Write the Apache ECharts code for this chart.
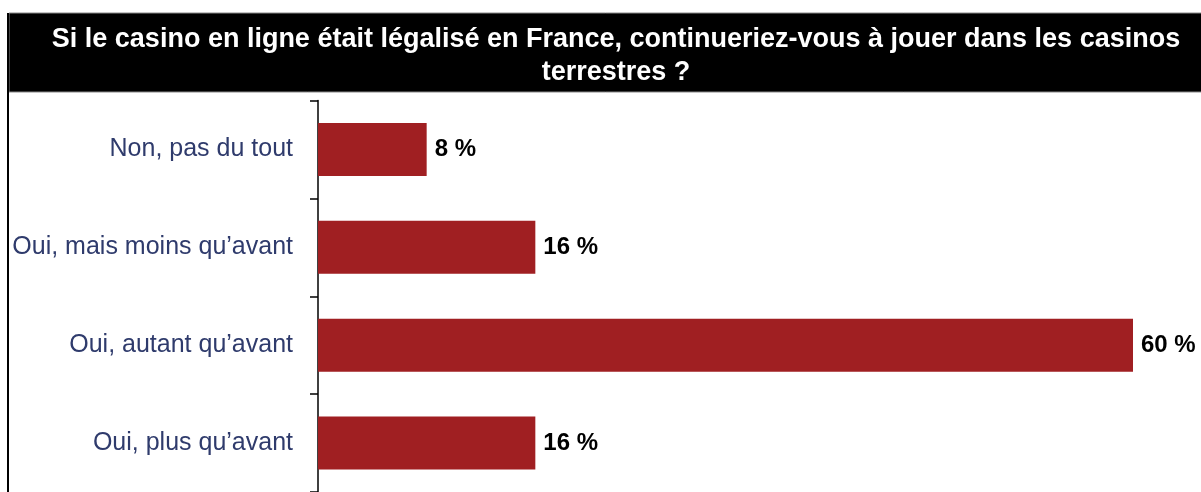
<!DOCTYPE html>
<html>
<head>
<meta charset="utf-8">
<script src="https://cdn.jsdelivr.net/npm/echarts@6/dist/echarts.min.js"></script>
<style>
html,body{margin:0;padding:0;background:#fff;}
#c{width:1201px;height:492px;}
</style>
</head>
<body>
<div id="c"></div>
<script>
var titleText = "Si le casino en ligne était légalisé en France, continueriez-vous à jouer dans les casinos\nterrestres ?";
var categories = ["Non, pas du tout", "Oui, mais moins qu\u2019avant", "Oui, autant qu\u2019avant", "Oui, plus qu\u2019avant"];
var values = [8, 16, 60, 16];

var chart = echarts.init(document.getElementById('c'), null, {renderer: 'canvas'});
chart.setOption({
  backgroundColor: '#ffffff',
  animation: false,
  graphic: [
    {type: 'rect', shape: {x: 9, y: 13, width: 1200, height: 79}, style: {fill: '#000000', stroke: '#888888', lineWidth: 1}, z: 0},
    {type: 'line', shape: {x1: 8, y1: 13, x2: 8, y2: 500}, style: {stroke: '#000000', lineWidth: 2}, z: 1}
  ],
  title: {
    text: titleText,
    left: 611,
    top: 18,
    textAlign: 'center',
    textStyle: {
      color: '#ffffff',
      fontFamily: 'Liberation Sans, Arial, sans-serif',
      fontWeight: 'bold',
      fontSize: 27,
      lineHeight: 33,
      align: 'center'
    }
  },
  grid: {left: 318, right: 68, top: 100.5, height: 396, containLabel: false},
  xAxis: {type: 'value', min: 0, max: 60, show: false},
  yAxis: {
    type: 'category',
    data: categories,
    inverse: true,
    axisLine: {show: true, lineStyle: {color: '#000000', width: 1.5}},
    axisTick: {show: true, length: 8, lineStyle: {color: '#000000', width: 1.5}},
    axisLabel: {
      margin: 25,
      color: '#2f3b6c',
      fontFamily: 'Liberation Sans, Arial, sans-serif',
      fontSize: 25
    },
    splitLine: {show: false}
  },
  series: [{
    type: 'bar',
    data: values,
    barWidth: 53,
    itemStyle: {color: '#a01f22'},
    label: {
      show: true,
      position: 'right',
      distance: 8,
      formatter: function (p) { return p.value + ' %'; },
      color: '#000000',
      fontFamily: 'Liberation Sans, Arial, sans-serif',
      fontWeight: 'bold',
      fontSize: 24
    }
  }]
});
</script>
</body>
</html>
